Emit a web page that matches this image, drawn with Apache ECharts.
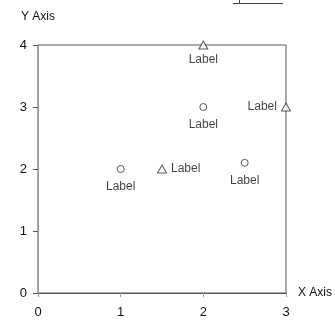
<!DOCTYPE html>
<html>
<head>
<meta charset="utf-8">
<script src="https://cdn.jsdelivr.net/npm/echarts@6/dist/echarts.min.js"></script>
<style>html,body{margin:0;padding:0;background:#fff;}#c{width:335px;height:323px;}</style>
</head>
<body>
<div id="c"></div>
<script>
var xTicks = [0, 1, 2, 3];
var yTicks = [0, 1, 2, 3, 4];
var circleX = [2, 1, 2.5];
var circleY = [3, 2, 2.1];
var circleLabels = ['Label', 'Label', 'Label'];
var triangleX = [2, 3, 1.5];
var triangleY = [4, 3, 2];
var triangleLabels = ['Label', 'Label', 'Label'];
var xName = 'X Axis';
var yName = 'Y Axis';

var circlePos = ['bottom', 'bottom', 'bottom'];
var trianglePos = ['bottom', 'left', 'right'];

function build(xs, ys, labels, pos) {
  return xs.map(function (x, i) {
    return {
      value: [x, ys[i]],
      label: { show: true, formatter: labels[i], position: pos[i] }
    };
  });
}

var font = 'Liberation Sans';
var chart = echarts.init(document.getElementById('c'), null, { renderer: 'canvas' });
chart.setOption({
  animation: false,
  backgroundColor: '#fff',
  textStyle: { fontFamily: font },
  grid: { left: 38, right: 49, top: 45, bottom: 30, show: true, borderColor: '#555', borderWidth: 1 },
  xAxis: {
    type: 'value', min: xTicks[0], max: xTicks[xTicks.length - 1], interval: 1,
    name: xName, nameLocation: 'end', nameGap: 12,
    nameTextStyle: { color: '#111', fontSize: 12, fontFamily: font, verticalAlign: 'middle', align: 'left' },
    axisLine: { show: true, lineStyle: { color: '#555', width: 1 } },
    axisTick: { show: true, length: 4, lineStyle: { color: '#999' } },
    axisLabel: { color: '#111', fontSize: 13, fontFamily: font, margin: 13 },
    splitLine: { show: false }
  },
  yAxis: {
    type: 'value', min: yTicks[0], max: yTicks[yTicks.length - 1], interval: 1,
    name: yName, nameLocation: 'end', nameGap: 22,
    nameTextStyle: { color: '#111', fontSize: 12, fontFamily: font, align: 'center' },
    axisLine: { show: true, lineStyle: { color: '#999', width: 1 } },
    axisTick: { show: true, length: 5, lineStyle: { color: '#555' } },
    axisLabel: { color: '#111', fontSize: 13, fontFamily: font, margin: 11 },
    splitLine: { show: false }
  },
  series: [
    {
      type: 'scatter', symbol: 'circle', symbolSize: 7,
      itemStyle: { color: '#fff', borderColor: '#333', borderWidth: 1 },
      label: { color: '#111', fontSize: 12, fontFamily: font, distance: 8 },
      data: build(circleX, circleY, circleLabels, circlePos)
    },
    {
      type: 'scatter', symbol: 'triangle', symbolSize: [9, 8],
      itemStyle: { color: '#fff', borderColor: '#333', borderWidth: 1 },
      label: { color: '#111', fontSize: 12, fontFamily: font, distance: 4 },
      data: build(triangleX, triangleY, triangleLabels, trianglePos)
    }
  ],
  graphic: [
    { type: 'line', shape: { x1: 233, y1: 3.5, x2: 283, y2: 3.5 }, style: { stroke: '#444', lineWidth: 1 } },
    { type: 'line', shape: { x1: 239.5, y1: 0, x2: 239.5, y2: 3 }, style: { stroke: '#444', lineWidth: 1 } }
  ]
});
</script>
</body>
</html>
